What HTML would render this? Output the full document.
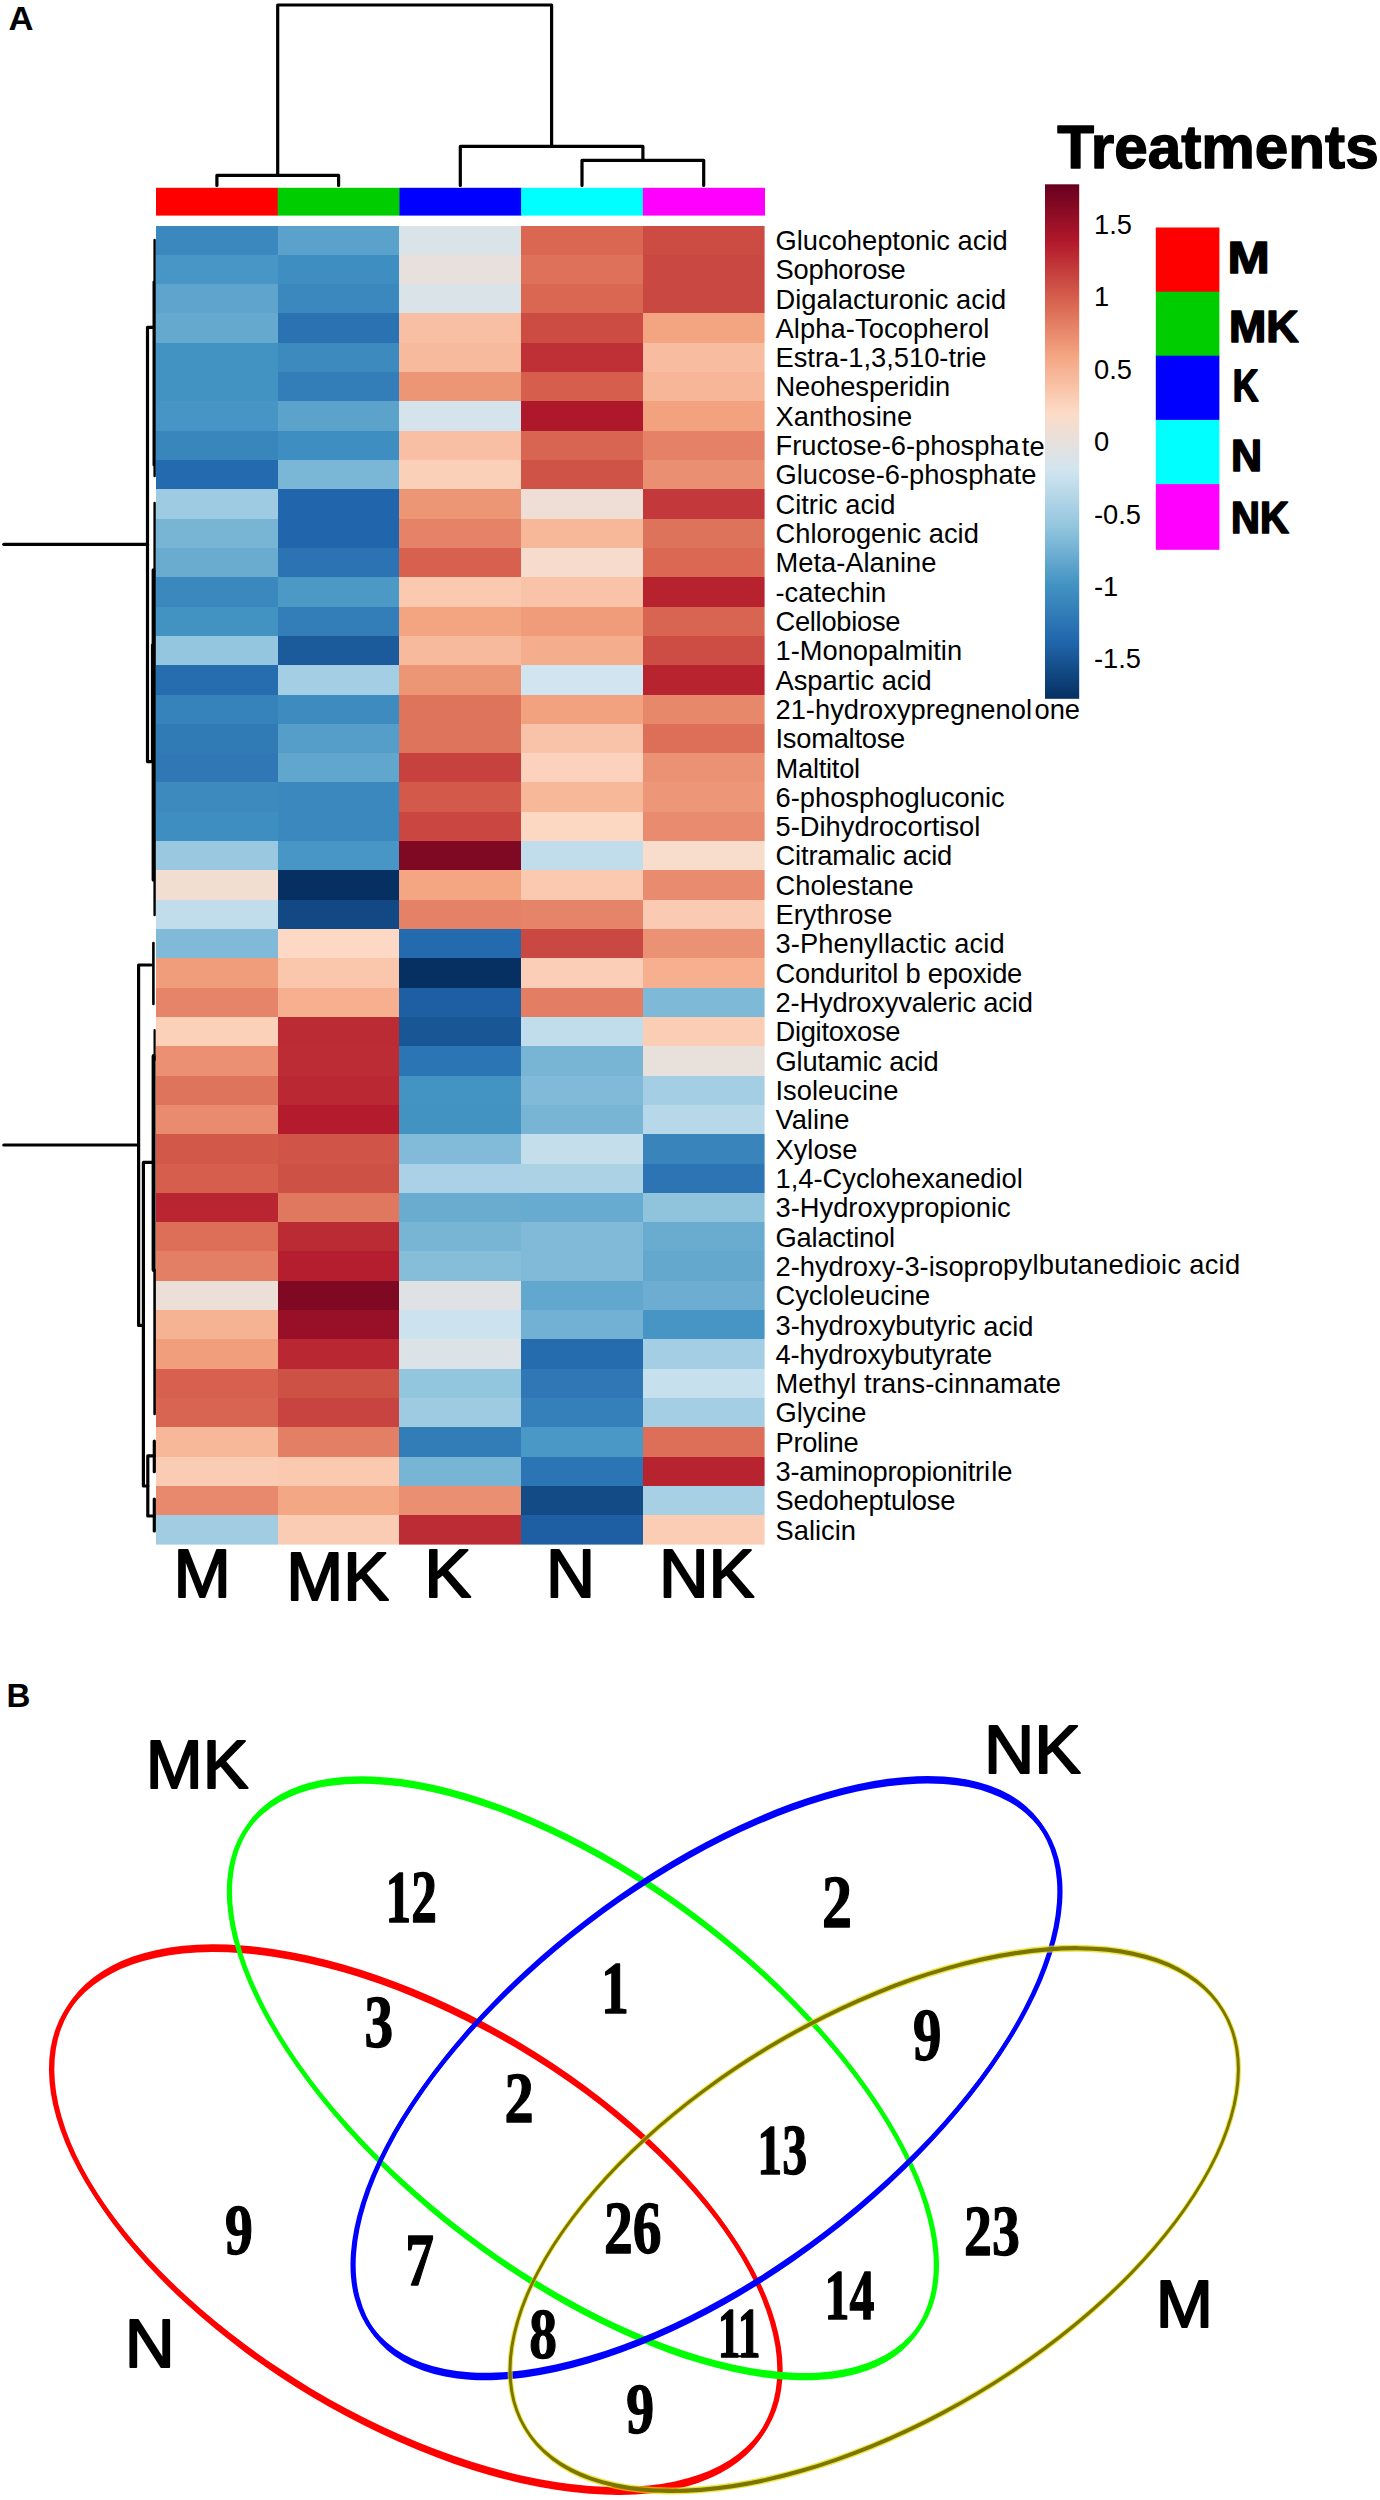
<!DOCTYPE html>
<html lang="en"><head><meta charset="utf-8"><title>Figure: heatmap and Venn diagram</title>
<style>html,body{margin:0;padding:0;background:#fff}body{width:1380px;height:2500px;overflow:hidden}svg{display:block}text{font-family:"Liberation Sans",Arial,Helvetica,sans-serif;fill:#000}.rl{font-size:27.3px}.sc{font-size:27.3px}.pl{font-size:30px;font-weight:bold}.cl{font-size:65px;stroke:#000;stroke-width:1.2px;paint-order:stroke}.lg{font-size:42px;font-weight:bold}.sb{font-weight:bold}.tb{font-family:"Liberation Serif","Times New Roman",Times,serif;font-weight:bold}.d{fill:none;stroke:#000;stroke-width:3.2;stroke-linejoin:round;stroke-linecap:round}.e{fill:none;stroke-width:5.5}</style></head><body>
<svg width="1380" height="2500" viewBox="0 0 1380 2500">
<rect width="1380" height="2500" fill="#fff"/>
<defs><linearGradient id="cb" x1="0" y1="0" x2="0" y2="1">
<stop offset="0.0000" stop-color="#67001F"/>
<stop offset="0.1111" stop-color="#B2182B"/>
<stop offset="0.2222" stop-color="#D6604D"/>
<stop offset="0.3333" stop-color="#F4A582"/>
<stop offset="0.4444" stop-color="#FDDBC7"/>
<stop offset="0.5556" stop-color="#D1E5F0"/>
<stop offset="0.6667" stop-color="#92C5DE"/>
<stop offset="0.7778" stop-color="#4393C3"/>
<stop offset="0.8889" stop-color="#2166AC"/>
<stop offset="1.0000" stop-color="#053061"/>
</linearGradient></defs>
<text class="sb" transform="translate(8.43 29.80) scale(1.0217 1)" font-size="33.89">A</text>
<text class="sb" transform="translate(6.46 1707.40) scale(0.9771 1)" font-size="33.89">B</text>
<g class="d">
<path d="M216.9 185.5V175.4H338.6V185.5"/>
<path d="M582.0 185.5V160.3H703.7V185.5"/>
<path d="M460.3 185.5V146.4H642.9V160.3"/>
<path d="M277.7 175.4V5H551.6V146.4"/>
</g>
<rect x="156.00" y="187.8" width="122.12" height="27.8" fill="#FF0000"/>
<rect x="277.72" y="187.8" width="122.12" height="27.8" fill="#00CD00"/>
<rect x="399.44" y="187.8" width="122.12" height="27.8" fill="#0000FF"/>
<rect x="521.16" y="187.8" width="122.12" height="27.8" fill="#00FFFF"/>
<rect x="642.88" y="187.8" width="122.12" height="27.8" fill="#FF00FF"/>
<g shape-rendering="crispEdges">
<rect x="156.00" y="225.50" width="122.22" height="29.81" fill="#3B88BE"/>
<rect x="277.72" y="225.50" width="122.22" height="29.81" fill="#5AA2CB"/>
<rect x="399.44" y="225.50" width="122.22" height="29.81" fill="#DAE3E8"/>
<rect x="521.16" y="225.50" width="122.22" height="29.81" fill="#D96752"/>
<rect x="642.88" y="225.50" width="122.22" height="29.81" fill="#CC4B43"/>
<rect x="156.00" y="254.81" width="122.22" height="29.81" fill="#4896C5"/>
<rect x="277.72" y="254.81" width="122.22" height="29.81" fill="#3F8EC1"/>
<rect x="399.44" y="254.81" width="122.22" height="29.81" fill="#E7E0DC"/>
<rect x="521.16" y="254.81" width="122.22" height="29.81" fill="#DD715A"/>
<rect x="642.88" y="254.81" width="122.22" height="29.81" fill="#CA4842"/>
<rect x="156.00" y="284.13" width="122.22" height="29.81" fill="#5EA4CC"/>
<rect x="277.72" y="284.13" width="122.22" height="29.81" fill="#3B88BE"/>
<rect x="399.44" y="284.13" width="122.22" height="29.81" fill="#DAE3E8"/>
<rect x="521.16" y="284.13" width="122.22" height="29.81" fill="#D96752"/>
<rect x="642.88" y="284.13" width="122.22" height="29.81" fill="#CA4842"/>
<rect x="156.00" y="313.44" width="122.22" height="29.81" fill="#66A9CF"/>
<rect x="277.72" y="313.44" width="122.22" height="29.81" fill="#2A72B2"/>
<rect x="399.44" y="313.44" width="122.22" height="29.81" fill="#F8BFA4"/>
<rect x="521.16" y="313.44" width="122.22" height="29.81" fill="#CC4B43"/>
<rect x="642.88" y="313.44" width="122.22" height="29.81" fill="#F3A481"/>
<rect x="156.00" y="342.75" width="122.22" height="29.81" fill="#4292C2"/>
<rect x="277.72" y="342.75" width="122.22" height="29.81" fill="#3C8ABE"/>
<rect x="399.44" y="342.75" width="122.22" height="29.81" fill="#F7BA9D"/>
<rect x="521.16" y="342.75" width="122.22" height="29.81" fill="#BE3036"/>
<rect x="642.88" y="342.75" width="122.22" height="29.81" fill="#F8BDA0"/>
<rect x="156.00" y="372.07" width="122.22" height="29.81" fill="#4292C2"/>
<rect x="277.72" y="372.07" width="122.22" height="29.81" fill="#337EB8"/>
<rect x="399.44" y="372.07" width="122.22" height="29.81" fill="#ED9676"/>
<rect x="521.16" y="372.07" width="122.22" height="29.81" fill="#D55E4C"/>
<rect x="642.88" y="372.07" width="122.22" height="29.81" fill="#F7B697"/>
<rect x="156.00" y="401.38" width="122.22" height="29.81" fill="#4695C4"/>
<rect x="277.72" y="401.38" width="122.22" height="29.81" fill="#5CA3CC"/>
<rect x="399.44" y="401.38" width="122.22" height="29.81" fill="#D5E4EC"/>
<rect x="521.16" y="401.38" width="122.22" height="29.81" fill="#AF172A"/>
<rect x="642.88" y="401.38" width="122.22" height="29.81" fill="#F3A280"/>
<rect x="156.00" y="430.69" width="122.22" height="29.81" fill="#3986BC"/>
<rect x="277.72" y="430.69" width="122.22" height="29.81" fill="#3F8EC1"/>
<rect x="399.44" y="430.69" width="122.22" height="29.81" fill="#F8BFA4"/>
<rect x="521.16" y="430.69" width="122.22" height="29.81" fill="#D86551"/>
<rect x="642.88" y="430.69" width="122.22" height="29.81" fill="#E48166"/>
<rect x="156.00" y="460.01" width="122.22" height="29.81" fill="#246AAE"/>
<rect x="277.72" y="460.01" width="122.22" height="29.81" fill="#7AB6D6"/>
<rect x="399.44" y="460.01" width="122.22" height="29.81" fill="#FBD0B9"/>
<rect x="521.16" y="460.01" width="122.22" height="29.81" fill="#CF5347"/>
<rect x="642.88" y="460.01" width="122.22" height="29.81" fill="#EA8F71"/>
<rect x="156.00" y="489.32" width="122.22" height="29.81" fill="#9ECBE1"/>
<rect x="277.72" y="489.32" width="122.22" height="29.81" fill="#2166AC"/>
<rect x="399.44" y="489.32" width="122.22" height="29.81" fill="#ED9676"/>
<rect x="521.16" y="489.32" width="122.22" height="29.81" fill="#EEDED5"/>
<rect x="642.88" y="489.32" width="122.22" height="29.81" fill="#C3393B"/>
<rect x="156.00" y="518.63" width="122.22" height="29.81" fill="#78B5D5"/>
<rect x="277.72" y="518.63" width="122.22" height="29.81" fill="#2166AC"/>
<rect x="399.44" y="518.63" width="122.22" height="29.81" fill="#E58267"/>
<rect x="521.16" y="518.63" width="122.22" height="29.81" fill="#F7B799"/>
<rect x="642.88" y="518.63" width="122.22" height="29.81" fill="#DE735B"/>
<rect x="156.00" y="547.95" width="122.22" height="29.81" fill="#6AACD0"/>
<rect x="277.72" y="547.95" width="122.22" height="29.81" fill="#2B73B3"/>
<rect x="399.44" y="547.95" width="122.22" height="29.81" fill="#D7614E"/>
<rect x="521.16" y="547.95" width="122.22" height="29.81" fill="#F7DCCD"/>
<rect x="642.88" y="547.95" width="122.22" height="29.81" fill="#DA6853"/>
<rect x="156.00" y="577.26" width="122.22" height="29.81" fill="#3B88BE"/>
<rect x="277.72" y="577.26" width="122.22" height="29.81" fill="#4C99C6"/>
<rect x="399.44" y="577.26" width="122.22" height="29.81" fill="#FAC9B0"/>
<rect x="521.16" y="577.26" width="122.22" height="29.81" fill="#F9C3A9"/>
<rect x="642.88" y="577.26" width="122.22" height="29.81" fill="#B7222F"/>
<rect x="156.00" y="606.57" width="122.22" height="29.81" fill="#4292C2"/>
<rect x="277.72" y="606.57" width="122.22" height="29.81" fill="#337EB8"/>
<rect x="399.44" y="606.57" width="122.22" height="29.81" fill="#F3A481"/>
<rect x="521.16" y="606.57" width="122.22" height="29.81" fill="#F09B7A"/>
<rect x="642.88" y="606.57" width="122.22" height="29.81" fill="#D86551"/>
<rect x="156.00" y="635.89" width="122.22" height="29.81" fill="#94C6DF"/>
<rect x="277.72" y="635.89" width="122.22" height="29.81" fill="#1B5A9B"/>
<rect x="399.44" y="635.89" width="122.22" height="29.81" fill="#F7BA9D"/>
<rect x="521.16" y="635.89" width="122.22" height="29.81" fill="#F5AE8D"/>
<rect x="642.88" y="635.89" width="122.22" height="29.81" fill="#CD4D44"/>
<rect x="156.00" y="665.20" width="122.22" height="29.81" fill="#266DB0"/>
<rect x="277.72" y="665.20" width="122.22" height="29.81" fill="#A4CEE3"/>
<rect x="399.44" y="665.20" width="122.22" height="29.81" fill="#ED9676"/>
<rect x="521.16" y="665.20" width="122.22" height="29.81" fill="#D1E5F0"/>
<rect x="642.88" y="665.20" width="122.22" height="29.81" fill="#B82330"/>
<rect x="156.00" y="694.51" width="122.22" height="29.81" fill="#3682BA"/>
<rect x="277.72" y="694.51" width="122.22" height="29.81" fill="#3D8BBF"/>
<rect x="399.44" y="694.51" width="122.22" height="29.81" fill="#DF745D"/>
<rect x="521.16" y="694.51" width="122.22" height="29.81" fill="#F3A280"/>
<rect x="642.88" y="694.51" width="122.22" height="29.81" fill="#E7886B"/>
<rect x="156.00" y="723.83" width="122.22" height="29.81" fill="#307AB6"/>
<rect x="277.72" y="723.83" width="122.22" height="29.81" fill="#549EC9"/>
<rect x="399.44" y="723.83" width="122.22" height="29.81" fill="#DF745D"/>
<rect x="521.16" y="723.83" width="122.22" height="29.81" fill="#F9C3A9"/>
<rect x="642.88" y="723.83" width="122.22" height="29.81" fill="#DD6F59"/>
<rect x="156.00" y="753.14" width="122.22" height="29.81" fill="#2F78B5"/>
<rect x="277.72" y="753.14" width="122.22" height="29.81" fill="#60A6CD"/>
<rect x="399.44" y="753.14" width="122.22" height="29.81" fill="#C7423F"/>
<rect x="521.16" y="753.14" width="122.22" height="29.81" fill="#FCD2BC"/>
<rect x="642.88" y="753.14" width="122.22" height="29.81" fill="#EC9274"/>
<rect x="156.00" y="782.45" width="122.22" height="29.81" fill="#3C8ABE"/>
<rect x="277.72" y="782.45" width="122.22" height="29.81" fill="#3B88BE"/>
<rect x="399.44" y="782.45" width="122.22" height="29.81" fill="#D35A4A"/>
<rect x="521.16" y="782.45" width="122.22" height="29.81" fill="#F7B799"/>
<rect x="642.88" y="782.45" width="122.22" height="29.81" fill="#EE9778"/>
<rect x="156.00" y="811.77" width="122.22" height="29.81" fill="#3F8EC1"/>
<rect x="277.72" y="811.77" width="122.22" height="29.81" fill="#3B88BE"/>
<rect x="399.44" y="811.77" width="122.22" height="29.81" fill="#C94641"/>
<rect x="521.16" y="811.77" width="122.22" height="29.81" fill="#FCD7C1"/>
<rect x="642.88" y="811.77" width="122.22" height="29.81" fill="#E98B6E"/>
<rect x="156.00" y="841.08" width="122.22" height="29.81" fill="#99C8E0"/>
<rect x="277.72" y="841.08" width="122.22" height="29.81" fill="#4896C5"/>
<rect x="399.44" y="841.08" width="122.22" height="29.81" fill="#7F0823"/>
<rect x="521.16" y="841.08" width="122.22" height="29.81" fill="#C1DDEB"/>
<rect x="642.88" y="841.08" width="122.22" height="29.81" fill="#F8DCCC"/>
<rect x="156.00" y="870.39" width="122.22" height="29.81" fill="#F2DDD1"/>
<rect x="277.72" y="870.39" width="122.22" height="29.81" fill="#053061"/>
<rect x="399.44" y="870.39" width="122.22" height="29.81" fill="#F4A582"/>
<rect x="521.16" y="870.39" width="122.22" height="29.81" fill="#FAC9B0"/>
<rect x="642.88" y="870.39" width="122.22" height="29.81" fill="#E98B6E"/>
<rect x="156.00" y="899.71" width="122.22" height="29.81" fill="#C1DDEB"/>
<rect x="277.72" y="899.71" width="122.22" height="29.81" fill="#124883"/>
<rect x="399.44" y="899.71" width="122.22" height="29.81" fill="#E48166"/>
<rect x="521.16" y="899.71" width="122.22" height="29.81" fill="#E68469"/>
<rect x="642.88" y="899.71" width="122.22" height="29.81" fill="#FACAB2"/>
<rect x="156.00" y="929.02" width="122.22" height="29.81" fill="#80BAD8"/>
<rect x="277.72" y="929.02" width="122.22" height="29.81" fill="#FDD9C5"/>
<rect x="399.44" y="929.02" width="122.22" height="29.81" fill="#246AAE"/>
<rect x="521.16" y="929.02" width="122.22" height="29.81" fill="#CA4842"/>
<rect x="642.88" y="929.02" width="122.22" height="29.81" fill="#EC9274"/>
<rect x="156.00" y="958.33" width="122.22" height="29.81" fill="#F09D7C"/>
<rect x="277.72" y="958.33" width="122.22" height="29.81" fill="#FAC6AC"/>
<rect x="399.44" y="958.33" width="122.22" height="29.81" fill="#053061"/>
<rect x="521.16" y="958.33" width="122.22" height="29.81" fill="#FBCEB7"/>
<rect x="642.88" y="958.33" width="122.22" height="29.81" fill="#F6AF8F"/>
<rect x="156.00" y="987.65" width="122.22" height="29.81" fill="#E68469"/>
<rect x="277.72" y="987.65" width="122.22" height="29.81" fill="#F6B090"/>
<rect x="399.44" y="987.65" width="122.22" height="29.81" fill="#1E5FA3"/>
<rect x="521.16" y="987.65" width="122.22" height="29.81" fill="#E37D63"/>
<rect x="642.88" y="987.65" width="122.22" height="29.81" fill="#7EB9D7"/>
<rect x="156.00" y="1016.96" width="122.22" height="29.81" fill="#FBD1BA"/>
<rect x="277.72" y="1016.96" width="122.22" height="29.81" fill="#BB2B34"/>
<rect x="399.44" y="1016.96" width="122.22" height="29.81" fill="#195696"/>
<rect x="521.16" y="1016.96" width="122.22" height="29.81" fill="#C1DDEB"/>
<rect x="642.88" y="1016.96" width="122.22" height="29.81" fill="#FBCDB5"/>
<rect x="156.00" y="1046.27" width="122.22" height="29.81" fill="#EB9072"/>
<rect x="277.72" y="1046.27" width="122.22" height="29.81" fill="#BC2C35"/>
<rect x="399.44" y="1046.27" width="122.22" height="29.81" fill="#2C75B4"/>
<rect x="521.16" y="1046.27" width="122.22" height="29.81" fill="#78B5D5"/>
<rect x="642.88" y="1046.27" width="122.22" height="29.81" fill="#E8E0DA"/>
<rect x="156.00" y="1075.59" width="122.22" height="29.81" fill="#DF745D"/>
<rect x="277.72" y="1075.59" width="122.22" height="29.81" fill="#BA2933"/>
<rect x="399.44" y="1075.59" width="122.22" height="29.81" fill="#4393C3"/>
<rect x="521.16" y="1075.59" width="122.22" height="29.81" fill="#80BAD8"/>
<rect x="642.88" y="1075.59" width="122.22" height="29.81" fill="#A4CEE3"/>
<rect x="156.00" y="1104.90" width="122.22" height="29.81" fill="#E98B6E"/>
<rect x="277.72" y="1104.90" width="122.22" height="29.81" fill="#B41C2D"/>
<rect x="399.44" y="1104.90" width="122.22" height="29.81" fill="#4292C2"/>
<rect x="521.16" y="1104.90" width="122.22" height="29.81" fill="#78B5D5"/>
<rect x="642.88" y="1104.90" width="122.22" height="29.81" fill="#B7D8E9"/>
<rect x="156.00" y="1134.21" width="122.22" height="29.81" fill="#D25849"/>
<rect x="277.72" y="1134.21" width="122.22" height="29.81" fill="#D05548"/>
<rect x="399.44" y="1134.21" width="122.22" height="29.81" fill="#82BBD9"/>
<rect x="521.16" y="1134.21" width="122.22" height="29.81" fill="#C4DEEC"/>
<rect x="642.88" y="1134.21" width="122.22" height="29.81" fill="#3884BB"/>
<rect x="156.00" y="1163.53" width="122.22" height="29.81" fill="#D55E4C"/>
<rect x="277.72" y="1163.53" width="122.22" height="29.81" fill="#CE5146"/>
<rect x="399.44" y="1163.53" width="122.22" height="29.81" fill="#AAD1E5"/>
<rect x="521.16" y="1163.53" width="122.22" height="29.81" fill="#ACD2E5"/>
<rect x="642.88" y="1163.53" width="122.22" height="29.81" fill="#2C74B3"/>
<rect x="156.00" y="1192.84" width="122.22" height="29.81" fill="#B92531"/>
<rect x="277.72" y="1192.84" width="122.22" height="29.81" fill="#E0785F"/>
<rect x="399.44" y="1192.84" width="122.22" height="29.81" fill="#6AACD0"/>
<rect x="521.16" y="1192.84" width="122.22" height="29.81" fill="#68ABD0"/>
<rect x="642.88" y="1192.84" width="122.22" height="29.81" fill="#90C4DD"/>
<rect x="156.00" y="1222.15" width="122.22" height="29.81" fill="#DD6F59"/>
<rect x="277.72" y="1222.15" width="122.22" height="29.81" fill="#BB2B34"/>
<rect x="399.44" y="1222.15" width="122.22" height="29.81" fill="#78B5D5"/>
<rect x="521.16" y="1222.15" width="122.22" height="29.81" fill="#80BAD8"/>
<rect x="642.88" y="1222.15" width="122.22" height="29.81" fill="#6AACD0"/>
<rect x="156.00" y="1251.47" width="122.22" height="29.81" fill="#E37F65"/>
<rect x="277.72" y="1251.47" width="122.22" height="29.81" fill="#B51E2E"/>
<rect x="399.44" y="1251.47" width="122.22" height="29.81" fill="#86BEDA"/>
<rect x="521.16" y="1251.47" width="122.22" height="29.81" fill="#80BAD8"/>
<rect x="642.88" y="1251.47" width="122.22" height="29.81" fill="#64A8CE"/>
<rect x="156.00" y="1280.78" width="122.22" height="29.81" fill="#EBDFD7"/>
<rect x="277.72" y="1280.78" width="122.22" height="29.81" fill="#7F0823"/>
<rect x="399.44" y="1280.78" width="122.22" height="29.81" fill="#DEE2E4"/>
<rect x="521.16" y="1280.78" width="122.22" height="29.81" fill="#62A7CE"/>
<rect x="642.88" y="1280.78" width="122.22" height="29.81" fill="#6CADD1"/>
<rect x="156.00" y="1310.09" width="122.22" height="29.81" fill="#F6B394"/>
<rect x="277.72" y="1310.09" width="122.22" height="29.81" fill="#981027"/>
<rect x="399.44" y="1310.09" width="122.22" height="29.81" fill="#CCE2EF"/>
<rect x="521.16" y="1310.09" width="122.22" height="29.81" fill="#72B1D3"/>
<rect x="642.88" y="1310.09" width="122.22" height="29.81" fill="#4695C4"/>
<rect x="156.00" y="1339.41" width="122.22" height="29.81" fill="#F19E7D"/>
<rect x="277.72" y="1339.41" width="122.22" height="29.81" fill="#B92732"/>
<rect x="399.44" y="1339.41" width="122.22" height="29.81" fill="#DCE3E6"/>
<rect x="521.16" y="1339.41" width="122.22" height="29.81" fill="#256CAF"/>
<rect x="642.88" y="1339.41" width="122.22" height="29.81" fill="#A4CEE3"/>
<rect x="156.00" y="1368.72" width="122.22" height="29.81" fill="#D7614E"/>
<rect x="277.72" y="1368.72" width="122.22" height="29.81" fill="#CE5146"/>
<rect x="399.44" y="1368.72" width="122.22" height="29.81" fill="#92C5DE"/>
<rect x="521.16" y="1368.72" width="122.22" height="29.81" fill="#2F78B5"/>
<rect x="642.88" y="1368.72" width="122.22" height="29.81" fill="#C7E0ED"/>
<rect x="156.00" y="1398.03" width="122.22" height="29.81" fill="#D86551"/>
<rect x="277.72" y="1398.03" width="122.22" height="29.81" fill="#C84440"/>
<rect x="399.44" y="1398.03" width="122.22" height="29.81" fill="#9ECBE1"/>
<rect x="521.16" y="1398.03" width="122.22" height="29.81" fill="#3580BA"/>
<rect x="642.88" y="1398.03" width="122.22" height="29.81" fill="#A4CEE3"/>
<rect x="156.00" y="1427.35" width="122.22" height="29.81" fill="#F7B799"/>
<rect x="277.72" y="1427.35" width="122.22" height="29.81" fill="#E37F65"/>
<rect x="399.44" y="1427.35" width="122.22" height="29.81" fill="#327CB7"/>
<rect x="521.16" y="1427.35" width="122.22" height="29.81" fill="#4A98C6"/>
<rect x="642.88" y="1427.35" width="122.22" height="29.81" fill="#DD6F59"/>
<rect x="156.00" y="1456.66" width="122.22" height="29.81" fill="#FACCB3"/>
<rect x="277.72" y="1456.66" width="122.22" height="29.81" fill="#FAC9B0"/>
<rect x="399.44" y="1456.66" width="122.22" height="29.81" fill="#78B5D5"/>
<rect x="521.16" y="1456.66" width="122.22" height="29.81" fill="#2C75B4"/>
<rect x="642.88" y="1456.66" width="122.22" height="29.81" fill="#B82330"/>
<rect x="156.00" y="1485.97" width="122.22" height="29.81" fill="#E8896D"/>
<rect x="277.72" y="1485.97" width="122.22" height="29.81" fill="#F4A784"/>
<rect x="399.44" y="1485.97" width="122.22" height="29.81" fill="#EA8F71"/>
<rect x="521.16" y="1485.97" width="122.22" height="29.81" fill="#134B86"/>
<rect x="642.88" y="1485.97" width="122.22" height="29.81" fill="#A7D0E4"/>
<rect x="156.00" y="1515.29" width="122.22" height="29.81" fill="#A1CCE2"/>
<rect x="277.72" y="1515.29" width="122.22" height="29.81" fill="#FACCB3"/>
<rect x="399.44" y="1515.29" width="122.22" height="29.81" fill="#BC2C35"/>
<rect x="521.16" y="1515.29" width="122.22" height="29.81" fill="#1E5FA3"/>
<rect x="642.88" y="1515.29" width="122.22" height="29.81" fill="#FBCDB5"/>
</g>
<rect x="764.60" y="223.5" width="3" height="1325.1" fill="#fff"/>
<rect x="155.0" y="1544.60" width="612.6" height="3" fill="#fff"/>
<text class="rl" x="775.5" y="249.9">Glucoheptonic acid</text>
<text class="rl" x="775.5" y="279.2" letter-spacing="-0.225">Sophorose</text>
<text class="rl" x="775.5" y="308.5">Digalacturonic acid</text>
<text class="rl" x="775.5" y="337.8" letter-spacing="0.093">Alpha-Tocopherol</text>
<text class="rl" x="775.5" y="367.1">Estra-1,3,510-trie</text>
<text class="rl" x="775.5" y="396.4" letter-spacing="-0.117">Neohesperidin</text>
<text class="rl" x="775.5" y="425.7">Xanthosine</text>
<text class="rl" x="775.5" y="455.1">Fructose-6-phospha<tspan dx="2" dy="1">te</tspan></text>
<text class="rl" x="775.5" y="484.4">Glucose-6-phosphate</text>
<text class="rl" x="775.5" y="513.7">Citric acid</text>
<text class="rl" x="775.5" y="543.0">Chlorogenic acid</text>
<text class="rl" x="775.5" y="572.3">Meta-Alanine</text>
<text class="rl" x="775.5" y="601.6">-catechin</text>
<text class="rl" x="775.5" y="630.9" letter-spacing="-0.278">Cellobiose</text>
<text class="rl" x="775.5" y="660.2">1-Monopalmitin</text>
<text class="rl" x="775.5" y="689.6">Aspartic acid</text>
<text class="rl" x="775.5" y="718.9">21-hydroxypregnenol<tspan dx="2.5">one</tspan></text>
<text class="rl" x="775.5" y="748.2" letter-spacing="-0.244">Isomaltose</text>
<text class="rl" x="775.5" y="777.5" letter-spacing="-0.257">Maltitol</text>
<text class="rl" x="775.5" y="806.8">6-phosphogluconic</text>
<text class="rl" x="775.5" y="836.1">5-Dihydrocortisol</text>
<text class="rl" x="775.5" y="865.4" letter-spacing="-0.157">Citramalic acid</text>
<text class="rl" x="775.5" y="894.8">Cholestane</text>
<text class="rl" x="775.5" y="924.1">Erythrose</text>
<text class="rl" x="775.5" y="953.4" letter-spacing="0.083">3-Phenyllactic acid</text>
<text class="rl" x="775.5" y="982.7" letter-spacing="-0.189">Conduritol b epoxide</text>
<text class="rl" x="775.5" y="1012.0" letter-spacing="-0.180">2-Hydroxyvaleric acid</text>
<text class="rl" x="775.5" y="1041.3" letter-spacing="-0.278">Digitoxose</text>
<text class="rl" x="775.5" y="1070.6" letter-spacing="-0.183">Glutamic acid</text>
<text class="rl" x="775.5" y="1099.9">Isoleucine</text>
<text class="rl" x="775.5" y="1129.3">Valine</text>
<text class="rl" x="775.5" y="1158.6">Xylose</text>
<text class="rl" x="775.5" y="1187.9">1,4-Cyclohexanediol</text>
<text class="rl" x="775.5" y="1217.2">3-Hydroxypropionic</text>
<text class="rl" x="775.5" y="1246.5" letter-spacing="-0.200">Galactinol</text>
<text class="rl" x="775.5" y="1275.8">2-hydroxy-3-isopro<tspan dy="-1.5" letter-spacing="0.27">pylbutanedioic acid</tspan></text>
<text class="rl" x="775.5" y="1305.1">Cycloleucine</text>
<text class="rl" x="775.5" y="1334.5">3-hydroxybutyric<tspan dy="1.5"> acid</tspan></text>
<text class="rl" x="775.5" y="1363.8" letter-spacing="-0.113">4-hydroxybutyrate</text>
<text class="rl" x="775.5" y="1393.1" letter-spacing="0.086">Methyl trans-cinnamate</text>
<text class="rl" x="775.5" y="1422.4">Glycine</text>
<text class="rl" x="775.5" y="1451.7" letter-spacing="-0.300">Proline</text>
<text class="rl" x="775.5" y="1481.0" letter-spacing="-0.237">3-aminopropionitri<tspan dx="1.6">le</tspan></text>
<text class="rl" x="775.5" y="1510.3" letter-spacing="-0.183">Sedoheptulose</text>
<text class="rl" x="775.5" y="1539.6">Salicin</text>
<text class="sr" transform="translate(173.41 1596.60) scale(1.0124 1)" font-size="68.07" stroke="#000" stroke-width="1.99" paint-order="stroke" stroke-linejoin="round">M</text>
<text class="sr" transform="translate(286.36 1599.80) scale(1.0048 1)" font-size="68.07" stroke="#000" stroke-width="2.00" paint-order="stroke" stroke-linejoin="round">MK</text>
<text class="sr" transform="translate(424.21 1596.60) scale(1.0315 1)" font-size="68.07" stroke="#000" stroke-width="1.97" paint-order="stroke" stroke-linejoin="round">K</text>
<text class="sr" transform="translate(546.09 1596.80) scale(0.9965 1)" font-size="68.22" stroke="#000" stroke-width="2.00" paint-order="stroke" stroke-linejoin="round">N</text>
<text class="sr" transform="translate(658.93 1596.80) scale(1.0074 1)" font-size="68.22" stroke="#000" stroke-width="1.99" paint-order="stroke" stroke-linejoin="round">NK</text>
<g class="d">
<path d="M3.8 544.3H147.5"/>
<path d="M153.6 327.3H147.5V761.6H151"/>
<path d="M3.8 1145H138.6"/>
<path d="M151 965H138.6V1325.4H143.4"/>
<path d="M153 1162.4H143.4V1486H147.8"/>
<path d="M154.3 1455.8H147.8V1516H154.3"/>
<path d="M154.3 1441V1471.7"/>
<path d="M154.3 1499V1531"/>
</g>
<g fill="none" stroke="#000" stroke-linecap="round">
<path d="M154.6 240V476" stroke-width="2.4"/>
<path d="M153.8 282V465" stroke-width="2.6"/>
<path d="M154.6 503V915" stroke-width="2.4"/>
<path d="M153.4 570V880" stroke-width="3.6"/>
<path d="M152.2 645V760" stroke-width="2.6"/>
<path d="M153.4 943V1004" stroke-width="2.6"/>
<path d="M154.6 1030V1060" stroke-width="2.2"/>
<path d="M153.6 1056V1270" stroke-width="4"/>
<path d="M154.6 1270V1414" stroke-width="2.6"/>
</g>
<rect x="1045" y="184.3" width="34.2" height="514.5" fill="url(#cb)"/>
<text class="sc" x="1094" y="234.0">1.5</text>
<text class="sc" x="1094" y="306.4">1</text>
<text class="sc" x="1094" y="378.8">0.5</text>
<text class="sc" x="1094" y="451.2">0</text>
<text class="sc" x="1094" y="523.6">-0.5</text>
<text class="sc" x="1094" y="596.0">-1</text>
<text class="sc" x="1094" y="668.4">-1.5</text>
<text class="sb" transform="translate(1057.30 168.38) scale(0.9772 1)" font-size="61.65" stroke="#000" stroke-width="1.42" paint-order="stroke" stroke-linejoin="round">Treatments</text>
<rect x="1155.8" y="227.5" width="63.6" height="64.6" fill="#FF0000"/>
<rect x="1155.8" y="291.7" width="63.6" height="64.4" fill="#00CD00"/>
<rect x="1155.8" y="355.7" width="63.6" height="64.6" fill="#0000FF"/>
<rect x="1155.8" y="419.9" width="63.6" height="64.6" fill="#00FFFF"/>
<rect x="1155.8" y="484.1" width="63.6" height="65.7" fill="#FF00FF"/>
<text class="sb" transform="translate(1227.57 272.50) scale(1.1403 1)" font-size="44.51" stroke="#000" stroke-width="1.50" paint-order="stroke" stroke-linejoin="round">M</text>
<text class="sb" transform="translate(1229.08 342.20) scale(1.0051 1)" font-size="44.51" stroke="#000" stroke-width="1.60" paint-order="stroke" stroke-linejoin="round">MK</text>
<text class="sb" transform="translate(1232.70 400.80) scale(0.8029 1)" font-size="44.22" stroke="#000" stroke-width="1.77" paint-order="stroke" stroke-linejoin="round">K</text>
<text class="sb" transform="translate(1230.89 470.80) scale(0.9550 1)" font-size="45.09" stroke="#000" stroke-width="1.64" paint-order="stroke" stroke-linejoin="round">N</text>
<text class="sb" transform="translate(1231.10 533.40) scale(0.9063 1)" font-size="44.22" stroke="#000" stroke-width="1.68" paint-order="stroke" stroke-linejoin="round">NK</text>
<g fill-rule="evenodd" stroke="none">
<path fill="#FF0000" d="M764.80 2424.32A406.60 201.80 30.87 1 0 66.80 2007.08A406.60 201.80 30.87 1 0 764.80 2424.32ZM764.80 2432.12A406.60 201.80 30.87 1 0 66.80 2014.88A406.60 201.80 30.87 1 0 764.80 2432.12Z"/>
<path fill="#FF0000" d="M762.10 2428.22A406.60 201.80 30.87 1 0 64.10 2010.98A406.60 201.80 30.87 1 0 762.10 2428.22ZM767.50 2428.22A406.60 201.80 30.87 1 0 69.50 2010.98A406.60 201.80 30.87 1 0 767.50 2428.22Z"/>
<path fill="#00FF00" d="M915.60 2328.97A418.80 196.20 37.40 1 0 250.20 1820.23A418.80 196.20 37.40 1 0 915.60 2328.97ZM915.60 2336.37A418.80 196.20 37.40 1 0 250.20 1827.63A418.80 196.20 37.40 1 0 915.60 2336.37Z"/>
<path fill="#00FF00" d="M913.00 2332.67A418.80 196.20 37.40 1 0 247.60 1823.93A418.80 196.20 37.40 1 0 913.00 2332.67ZM918.20 2332.67A418.80 196.20 37.40 1 0 252.80 1823.93A418.80 196.20 37.40 1 0 918.20 2332.67Z"/>
<path fill="#0000FF" d="M1039.12 1820.09A418.70 196.30 -37.40 1 0 373.88 2328.71A418.70 196.30 -37.40 1 0 1039.12 1820.09ZM1039.12 1827.49A418.70 196.30 -37.40 1 0 373.88 2336.11A418.70 196.30 -37.40 1 0 1039.12 1827.49Z"/>
<path fill="#0000FF" d="M1036.52 1823.79A418.70 196.30 -37.40 1 0 371.28 2332.41A418.70 196.30 -37.40 1 0 1036.52 1823.79ZM1041.72 1823.79A418.70 196.30 -37.40 1 0 376.48 2332.41A418.70 196.30 -37.40 1 0 1041.72 1823.79Z"/>
<path fill="#E4DC00" fill-opacity="0.7" d="M1223.20 2007.48A406.60 201.80 -30.87 1 0 525.20 2424.72A406.60 201.80 -30.87 1 0 1223.20 2007.48ZM1223.20 2014.48A406.60 201.80 -30.87 1 0 525.20 2431.72A406.60 201.80 -30.87 1 0 1223.20 2014.48Z"/>
<path fill="#E4DC00" fill-opacity="0.7" d="M1220.60 2010.98A406.60 201.80 -30.87 1 0 522.60 2428.22A406.60 201.80 -30.87 1 0 1220.60 2010.98ZM1225.80 2010.98A406.60 201.80 -30.87 1 0 527.80 2428.22A406.60 201.80 -30.87 1 0 1225.80 2010.98Z"/>
<path fill="#7C7600" d="M1223.20 2008.88A406.60 201.80 -30.87 1 0 525.20 2426.12A406.60 201.80 -30.87 1 0 1223.20 2008.88ZM1223.20 2013.08A406.60 201.80 -30.87 1 0 525.20 2430.32A406.60 201.80 -30.87 1 0 1223.20 2013.08Z"/>
<path fill="#7C7600" d="M1221.70 2010.98A406.60 201.80 -30.87 1 0 523.70 2428.22A406.60 201.80 -30.87 1 0 1221.70 2010.98ZM1224.70 2010.98A406.60 201.80 -30.87 1 0 526.70 2428.22A406.60 201.80 -30.87 1 0 1224.70 2010.98Z"/>
</g>
<text class="sr" transform="translate(145.76 1788.10) scale(0.9984 1)" font-size="68.51" stroke="#000" stroke-width="2.00" paint-order="stroke" stroke-linejoin="round">MK</text>
<text class="sr" transform="translate(983.95 1772.70) scale(1.0254 1)" font-size="67.93" stroke="#000" stroke-width="1.97" paint-order="stroke" stroke-linejoin="round">NK</text>
<text class="sr" transform="translate(1155.73 2326.80) scale(1.0300 1)" font-size="66.76" stroke="#000" stroke-width="1.97" paint-order="stroke" stroke-linejoin="round">M</text>
<text class="sr" transform="translate(124.69 2367.00) scale(1.0237 1)" font-size="67.64" stroke="#000" stroke-width="1.98" paint-order="stroke" stroke-linejoin="round">N</text>
<text class="tb" transform="translate(385.50 1922.40) scale(0.6905 1)" font-size="74.26" stroke="#000" stroke-width="1.42" paint-order="stroke" stroke-linejoin="round">12</text>
<text class="tb" transform="translate(821.95 1926.80) scale(0.8213 1)" font-size="73.06" stroke="#000" stroke-width="1.32" paint-order="stroke" stroke-linejoin="round">2</text>
<text class="tb" transform="translate(600.94 2012.90) scale(0.7607 1)" font-size="73.33" stroke="#000" stroke-width="1.36" paint-order="stroke" stroke-linejoin="round">1</text>
<text class="tb" transform="translate(364.45 2047.36) scale(0.7755 1)" font-size="73.90" stroke="#000" stroke-width="1.35" paint-order="stroke" stroke-linejoin="round">3</text>
<text class="tb" transform="translate(912.93 2060.46) scale(0.7701 1)" font-size="73.90" stroke="#000" stroke-width="1.36" paint-order="stroke" stroke-linejoin="round">9</text>
<text class="tb" transform="translate(504.52 2122.40) scale(0.7998 1)" font-size="72.91" stroke="#000" stroke-width="1.33" paint-order="stroke" stroke-linejoin="round">2</text>
<text class="tb" transform="translate(757.30 2174.38) scale(0.6925 1)" font-size="72.12" stroke="#000" stroke-width="1.42" paint-order="stroke" stroke-linejoin="round">13</text>
<text class="tb" transform="translate(225.07 2253.88) scale(0.7733 1)" font-size="72.12" stroke="#000" stroke-width="1.35" paint-order="stroke" stroke-linejoin="round">9</text>
<text class="tb" transform="translate(603.95 2253.16) scale(0.7790 1)" font-size="73.90" stroke="#000" stroke-width="1.35" paint-order="stroke" stroke-linejoin="round">26</text>
<text class="tb" transform="translate(964.03 2255.09) scale(0.7806 1)" font-size="71.38" stroke="#000" stroke-width="1.35" paint-order="stroke" stroke-linejoin="round">23</text>
<text class="tb" transform="translate(405.29 2284.80) scale(0.7877 1)" font-size="72.98" stroke="#000" stroke-width="1.34" paint-order="stroke" stroke-linejoin="round">7</text>
<text class="tb" transform="translate(824.61 2318.80) scale(0.6856 1)" font-size="72.73" stroke="#000" stroke-width="1.42" paint-order="stroke" stroke-linejoin="round">14</text>
<text class="tb" transform="translate(529.20 2357.68) scale(0.7663 1)" font-size="72.30" stroke="#000" stroke-width="1.36" paint-order="stroke" stroke-linejoin="round">8</text>
<text class="tb" transform="translate(717.80 2356.60) scale(0.6194 1)" font-size="72.73" stroke="#000" stroke-width="1.48" paint-order="stroke" stroke-linejoin="round">11</text>
<text class="tb" transform="translate(626.37 2433.28) scale(0.7781 1)" font-size="71.67" stroke="#000" stroke-width="1.35" paint-order="stroke" stroke-linejoin="round">9</text>
<path d="M721 2356.2H758.6" stroke="#000" stroke-width="2" fill="none"/>
</svg></body></html>
